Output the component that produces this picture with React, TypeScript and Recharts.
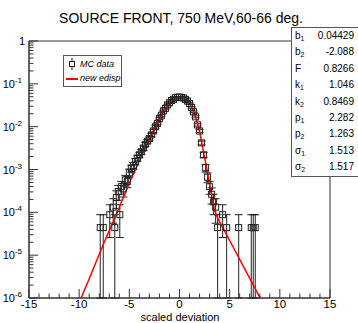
import React from "react";
import { ComposedChart, Line, Scatter, ErrorBar, XAxis, YAxis, ReferenceArea } from "recharts";

const FONT = "'Liberation Sans', Arial, sans-serif";

const chartTitle = "SOURCE FRONT, 750 MeV,60-66 deg.";
const xTitle = "scaled deviation";

const xTicks = [-15, -14, -13, -12, -11, -10, -9, -8, -7, -6, -5, -4, -3, -2, -1, 0, 1, 2, 3, 4, 5, 6, 7, 8, 9, 10, 11, 12, 13, 14, 15];
const yMajor = [1e-6, 1e-5, 1e-4, 1e-3, 1e-2, 1e-1, 1];
const yMinorSteps = [2, 3, 4, 5, 6, 7, 8, 9];

// fitted curve ("new edisp")
const curveX = [-9.8, -9, -8, -7.5, -7, -6.5, -6, -5.5, -5, -4.5, -4, -3.5, -3, -2.5, -2, -1.5, -1, -0.5, 0, 0.5, 1, 1.5, 2, 2.5, 3, 3.5, 4, 4.5, 5, 5.5, 6, 6.5, 7, 7.5, 8, 8.15];
const curveY = [1.0e-6, 2.82e-6, 1.05e-5, 2.0e-5, 3.72e-5, 6.92e-5, 1.32e-4, 2.51e-4, 4.79e-4, 8.71e-4, 1.58e-3, 2.82e-3, 4.9e-3, 8.71e-3, 1.51e-2, 2.51e-2, 3.63e-2, 4.57e-2, 4.8e-2, 4.57e-2, 3.47e-2, 2.0e-2, 7.59e-3, 1.91e-3, 4.68e-4, 1.12e-4, 6.03e-5, 3.63e-5, 2.19e-5, 1.32e-5, 7.94e-6, 4.79e-6, 2.88e-6, 1.74e-6, 1.07e-6, 1.0e-6];

// MC histogram: bin centres and raw counts
const mcX = [-7.9, -7.6, -6.95, -6.6, -6.45, -6.3, -6.1, -5.95, -5.8, -5.6, -5.4, -5.2, -5.0, -4.8, -4.6, -4.4, -4.2, -4.0, -3.8, -3.6, -3.4, -3.2, -3.0, -2.8, -2.6, -2.4, -2.2, -2.0, -1.8, -1.6, -1.4, -1.2, -1.0, -0.8, -0.6, -0.4, -0.2, 0.0, 0.2, 0.4, 0.6, 0.8, 1.0, 1.2, 1.4, 1.6, 1.8, 2.0, 2.2, 2.4, 2.6, 2.8, 3.0, 3.2, 3.4, 3.6, 3.8, 4.3, 4.7, 5.9, 7.15, 7.35, 7.55];
const mcCounts = [1, 1, 2, 3, 1, 5, 7, 2, 9, 8, 13, 12, 19, 24, 28, 35, 42, 50, 59, 72, 88, 104, 120, 146, 180, 226, 270, 350, 420, 530, 610, 730, 820, 925, 990, 1080, 1110, 1115, 1090, 1060, 985, 900, 790, 640, 505, 385, 250, 180, 95, 50, 25, 15, 9, 6, 4, 3, 1, 2, 1, 1, 1, 1, 1];
const perCount = 4.4e-5;

const statNames = ["b", "b", "F", "k", "k", "p", "p", "σ", "σ"];
const statSubs = ["1", "2", "", "1", "2", "1", "2", "1", "2"];
const statValues = ["0.04429", "-2.088", "0.8266", "1.046", "0.8469", "2.282", "1.263", "1.513", "1.517"];

const yTicks = [...yMajor, ...yMajor.slice(0, -1).flatMap((d) => yMinorSteps.map((k) => k * d))].sort((a, b) => a - b);
const curveData = curveX.map((x, i) => ({ x, y: curveY[i] }));
const mcData = mcX.map((x, i) => {
  const y = mcCounts[i] * perCount;
  const e = Math.sqrt(mcCounts[i]) * perCount;
  return { x, y, err: [Math.min(e, y - 1e-6), e] };
});

const AXIS = "#333";

function XTick(props: any) {
  const { x, y, payload } = props;
  const v = payload.value;
  const major = v % 5 === 0;
  return (
    <g>
      <line x1={x} x2={x} y1={y} y2={y - (major ? 9 : 4.5)} stroke={AXIS} />
      {major && (
        <text x={x} y={y + 9.5} textAnchor="middle" fontSize={11.5} fontFamily={FONT} fill="#000">
          {v}
        </text>
      )}
    </g>
  );
}

function YTick(props: any) {
  const { x, y, payload } = props;
  const v = payload.value;
  const major = yMajor.includes(v);
  const exp = Math.round(Math.log10(v));
  return (
    <g>
      <line x1={x} x2={x + (major ? 9 : 4.5)} y1={y} y2={y} stroke={AXIS} />
      {major &&
        (exp === 0 ? (
          <text x={x - 4} y={y + 4} textAnchor="end" fontSize={11} fontFamily={FONT} fill="#000">
            1
          </text>
        ) : (
          <text x={x - 7} y={y + 4} textAnchor="end" fontSize={11} fontFamily={FONT} fill="#000">
            10
            <tspan dy={-5} fontSize={8}>
              {exp}
            </tspan>
          </text>
        ))}
    </g>
  );
}

const Square = (props: any) => {
  const { cx, cy } = props;
  if (cx == null || cy == null) return null;
  return <rect x={cx - 3} y={cy - 3} width={6} height={6} fill="none" stroke="#222" strokeWidth={1} />;
};

export default function App() {
  return (
    <div style={{ position: "absolute", left: 0, top: 0, width: 358, height: 323, background: "#fff", fontFamily: FONT }}>
      <ComposedChart width={358} height={323} margin={{ top: 41, right: 28, bottom: 0, left: 0 }}>
        <XAxis
          type="number"
          dataKey="x"
          domain={[-15, 15]}
          ticks={xTicks}
          interval={0}
          allowDataOverflow
          height={25}
          tickSize={0}
          tickMargin={0}
          tickLine={false}
          axisLine={{ stroke: AXIS }}
          tick={<XTick />}
        />
        <YAxis
          type="number"
          dataKey="y"
          scale="log"
          domain={[1e-6, 1]}
          ticks={yTicks}
          interval={0}
          allowDataOverflow
          width={29}
          tickSize={0}
          tickMargin={0}
          tickLine={false}
          axisLine={{ stroke: AXIS }}
          tick={<YTick />}
        />
        <ReferenceArea x1={-15} x2={15} y1={1e-6} y2={1} fill="none" stroke={AXIS} strokeWidth={1} />
        <Scatter data={mcData} dataKey="y" shape={<Square />} isAnimationActive={false}>
          <ErrorBar dataKey="err" direction="y" width={4} stroke="#222" strokeWidth={1} isAnimationActive={false} />
        </Scatter>
        <Line data={curveData} dataKey="y" type="monotone" stroke="#ff0000" strokeWidth={1.5} dot={false} isAnimationActive={false} />
      </ComposedChart>

      <div style={{ position: "absolute", left: 0, top: 10, width: 362, textAlign: "center", fontSize: 14, lineHeight: "17px", color: "#000" }}>
        {chartTitle}
      </div>
      <div style={{ position: "absolute", left: 0, top: 310.5, width: 360, textAlign: "center", fontSize: 11, lineHeight: "12px", color: "#000" }}>
        {xTitle}
      </div>

      <div
        style={{
          position: "absolute",
          left: 63,
          top: 55,
          width: 57,
          height: 30,
          border: "1px solid #555",
          background: "#fff",
          fontSize: 9,
          fontStyle: "italic",
          color: "#000",
          whiteSpace: "nowrap",
        }}
      >
        <div style={{ position: "absolute", left: 3, top: 2, width: 10, height: 12 }}>
          <svg width={10} height={12}>
            <line x1={5} x2={5} y1={0} y2={3.5} stroke="#222" />
            <line x1={5} x2={5} y1={8.5} y2={12} stroke="#222" />
            <rect x={2.5} y={3.5} width={5} height={5} fill="none" stroke="#222" />
          </svg>
        </div>
        <div style={{ position: "absolute", left: 16, top: 2, lineHeight: "12px" }}>MC data</div>
        <div style={{ position: "absolute", left: 2, top: 22, width: 12, height: 1.5, background: "#ff0000" }} />
        <div style={{ position: "absolute", left: 16, top: 16, lineHeight: "12px" }}>new edisp</div>
      </div>

      <div
        style={{
          position: "absolute",
          left: 291,
          top: 27,
          width: 66,
          height: 148,
          border: "1px solid #555",
          borderRight: "none",
          background: "#fff",
          fontSize: 10,
          color: "#000",
        }}
      >
        {statNames.map((n, i) => (
          <div key={i} style={{ position: "relative", height: 16.4, lineHeight: "16.4px" }}>
            <span style={{ position: "absolute", left: 3 }}>
              {n}
              <sub style={{ fontSize: 7, verticalAlign: "-2px" }}>{statSubs[i]}</sub>
            </span>
            <span style={{ position: "absolute", right: 4 }}>{statValues[i]}</span>
          </div>
        ))}
      </div>
    </div>
  );
}
